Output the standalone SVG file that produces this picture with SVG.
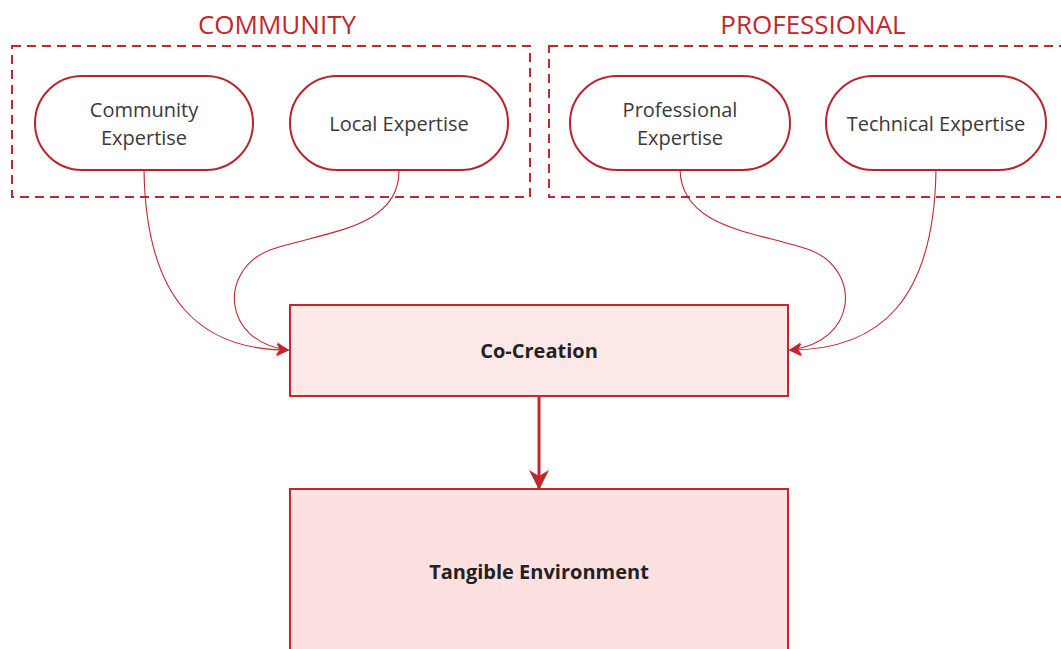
<svg xmlns="http://www.w3.org/2000/svg" width="1061" height="649" viewBox="0 0 1061 649">
<style>
.grp{fill:none;stroke:#c1272d;stroke-width:2;stroke-dasharray:9,6}
.glabel{font-family:"Open Sans","Noto Sans",sans-serif;font-size:26px;fill:#c1272d;text-anchor:middle}
.pill{fill:#fff;stroke:#b8242c;stroke-width:2}
.ptext{font-family:"Open Sans","Noto Sans",sans-serif;font-size:20px;fill:#3a3a3a;text-anchor:middle}
.box{fill:#fde8e8;stroke:#c1272d;stroke-width:2}
.box2{fill:#fde0e0;stroke:#c1272d;stroke-width:2}
.btext{font-family:"Open Sans","Noto Sans",sans-serif;font-size:20px;font-weight:bold;fill:#222;text-anchor:middle}
.curve{fill:none;stroke:#c1272d;stroke-width:1.1}
.main{fill:none;stroke:#c1272d;stroke-width:3}
</style>
<defs>
<marker id="ah" viewBox="0 0 10 10" refX="9" refY="5" markerWidth="13" markerHeight="13" markerUnits="userSpaceOnUse" orient="auto">
<path d="M0,0 L10,5 L0,10 L3,5 Z" fill="#c1272d"/>
</marker>
<marker id="ahb" viewBox="0 0 10 10" refX="9" refY="5" markerWidth="20" markerHeight="20" markerUnits="userSpaceOnUse" orient="auto">
<path d="M0,0 L10,5 L0,10 L3,5 Z" fill="#c1272d"/>
</marker>
</defs>
<rect width="1061" height="649" fill="#fff"/>
<g id="group-community">
<rect class="grp" x="12" y="46" width="518" height="151"/>
<text class="glabel" x="277" y="34">COMMUNITY</text>
</g>
<g id="group-professional">
<rect class="grp" x="549" y="46" width="520" height="151"/>
<text class="glabel" x="813" y="34">PROFESSIONAL</text>
</g>
<g id="connectors">
<path class="curve" d="M144,170 C146,300 200,350 288,350" marker-end="url(#ah)"/>
<path class="curve" d="M399,170 C400,230 320,232 270,250 C218,270 222,342 288,350" marker-end="url(#ah)"/>
<path class="curve" d="M680,170 C682,230 760,232 810,250 C862,270 858,342 790,350" marker-end="url(#ah)"/>
<path class="curve" d="M936,170 C934,300 880,350 790,350" marker-end="url(#ah)"/>
<path class="main" d="M539,397 L539,488" marker-end="url(#ahb)"/>
</g>
<g id="node-community-expertise">
<rect class="pill" x="35" y="76" width="218" height="94" rx="47"/>
<text class="ptext" x="144" y="117">Community</text>
<text class="ptext" x="144" y="145">Expertise</text>
</g>
<g id="node-local-expertise">
<rect class="pill" x="290" y="76" width="218" height="94" rx="47"/>
<text class="ptext" x="399" y="131">Local Expertise</text>
</g>
<g id="node-professional-expertise">
<rect class="pill" x="570" y="76" width="220" height="94" rx="47"/>
<text class="ptext" x="680" y="117">Professional</text>
<text class="ptext" x="680" y="145">Expertise</text>
</g>
<g id="node-technical-expertise">
<rect class="pill" x="826" y="76" width="220" height="94" rx="47"/>
<text class="ptext" x="936" y="131">Technical Expertise</text>
</g>
<g id="node-co-creation">
<rect class="box" x="290" y="305" width="498" height="91"/>
<text class="btext" x="539" y="358">Co-Creation</text>
</g>
<g id="node-tangible-environment">
<rect class="box2" x="290" y="489" width="498" height="170"/>
<text class="btext" x="539" y="579">Tangible Environment</text>
</g>
</svg>
